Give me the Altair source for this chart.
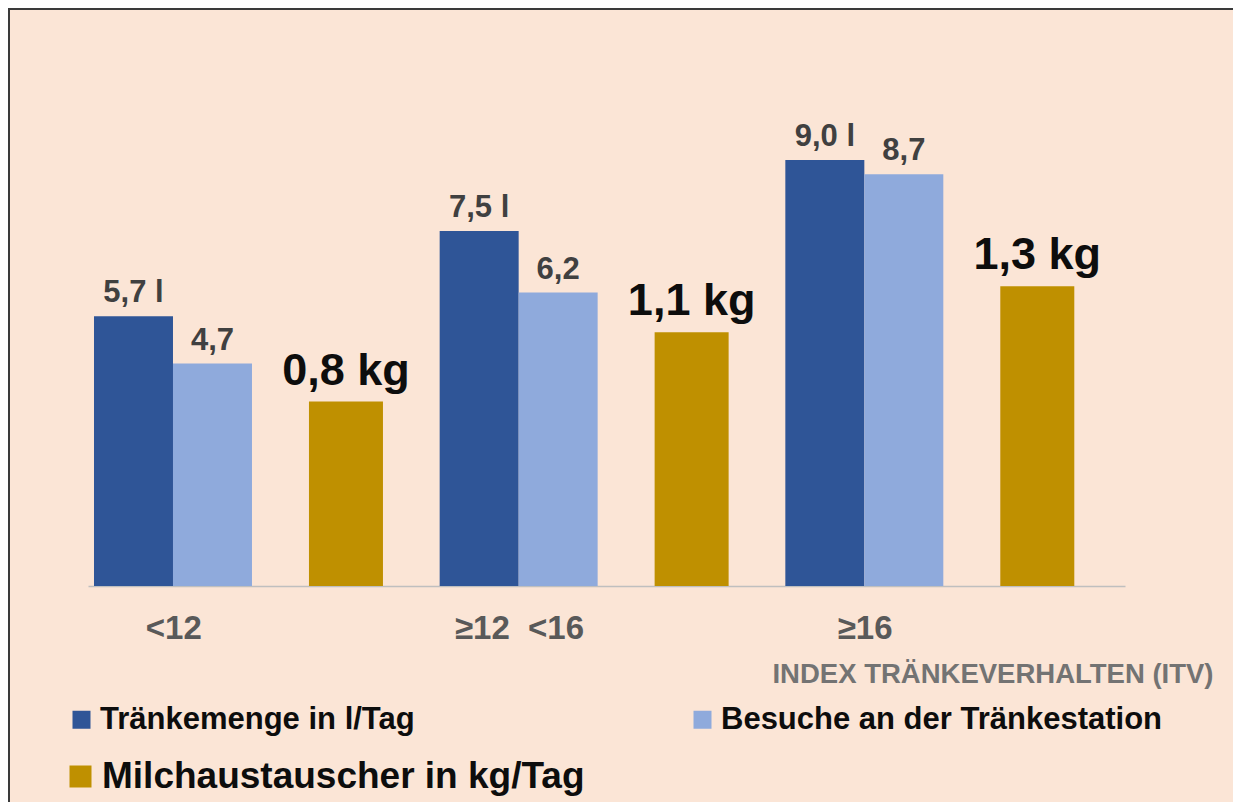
import altair as alt
import pandas as pd

# ---- data ----
groups = ["<12", "≥12\u00a0\u00a0<16", "≥16"]
series_blue = ["Tränkemenge in l/Tag", "Besuche an der Tränkestation"]
series_gold = ["Milchaustauscher in kg/Tag"]
traenkemenge = [5.7, 7.5, 9.0]
besuche = [4.7, 6.2, 8.7]
milchaustauscher = [0.8, 1.1, 1.3]
unit_traenke = " l"
unit_besuche = ""
unit_milch = " kg"
axis_title = "INDEX TRÄNKEVERHALTEN (ITV)"

# ---- styles ----
FONT = "Liberation Sans"
DARK_BLUE = "#2F5597"
LIGHT_BLUE = "#8FAADC"
GOLD = "#BF9000"
BG = "#FBE5D6"

blue_rows = []
for g, v in zip(groups, traenkemenge):
    blue_rows.append({"group": g, "series": series_blue[0], "value": v, "unit": unit_traenke})
for g, v in zip(groups, besuche):
    blue_rows.append({"group": g, "series": series_blue[1], "value": v, "unit": unit_besuche})
blue_df = pd.DataFrame(blue_rows)

gold_df = pd.DataFrame({
    "group": groups,
    "series": series_gold * len(groups),
    "value": milchaustauscher,
    "unit": [unit_milch] * len(groups),
})

x_axis = alt.Axis(
    labelAngle=0, ticks=False, grid=False,
    domainColor="#BFBFBF", domainWidth=1.5,
    labelFont=FONT, labelFontSize=33, labelFontWeight="bold", labelColor="#595959",
    labelPadding=26, labelOffset=-87,
    title=axis_title, titleFont=FONT, titleFontSize=27.5, titleFontWeight="bold",
    titleColor="#737373", titleAlign="right", titleBaseline="alphabetic",
    titleX=1125, titleY=96,
)
x_scale = alt.Scale(domain=groups, paddingInner=0, paddingOuter=0)


def x_enc():
    return alt.X("group:N", sort=groups, scale=x_scale, axis=x_axis)


# slot layout inside each group band (empty slots give the gaps)
blue_slots = series_blue + ["_gap"]
gold_slots = ["_a", "_b"] + series_gold

blue_off = alt.XOffset("series:N", sort=blue_slots,
                       scale=alt.Scale(domain=blue_slots, paddingInner=0,
                                       paddingOuter=0.688, align=0.0552))
gold_off = alt.XOffset("series:N", sort=gold_slots,
                       scale=alt.Scale(domain=gold_slots, paddingInner=0,
                                       paddingOuter=0.8356, align=0.590))

blue_y = alt.Y("value:Q", scale=alt.Scale(domain=[0, 12], nice=False, zero=True), axis=None)
gold_y = alt.Y("value:Q", scale=alt.Scale(domain=[0, 2.463], nice=False, zero=True), axis=None)

label_expr = "replace(format(datum.value, '.1f'), '.', ',') + datum.unit"

blue_bars = alt.Chart(blue_df).mark_bar().encode(
    x=x_enc(), xOffset=blue_off, y=blue_y,
    color=alt.Color("series:N", sort=series_blue,
                    scale=alt.Scale(domain=series_blue, range=[DARK_BLUE, LIGHT_BLUE]),
                    legend=alt.Legend(
                        title=None, orient="none", legendX=-22, legendY=686,
                        direction="horizontal", columns=2, columnPadding=272,
                        symbolType="square", symbolSize=324, symbolStrokeWidth=0,
                        symbolOpacity=1, labelFont=FONT, labelFontSize=31,
                        labelFontWeight="bold", labelColor="#0d0d0d",
                        labelLimit=900, labelOffset=3, padding=0)),
)
blue_text = alt.Chart(blue_df).transform_calculate(label=label_expr).mark_text(
    dy=-14, baseline="alphabetic", font=FONT, fontSize=31, fontWeight="bold", color="#404040"
).encode(x=x_enc(), xOffset=blue_off, y=blue_y, text="label:N")

gold_bars = alt.Chart(gold_df).mark_bar().encode(
    x=x_enc(), xOffset=gold_off, y=gold_y,
    color=alt.Color("series:N",
                    scale=alt.Scale(domain=series_gold, range=[GOLD]),
                    legend=alt.Legend(
                        title=None, orient="none", legendX=-26, legendY=740,
                        symbolType="square", symbolSize=484, symbolStrokeWidth=0,
                        symbolOpacity=1, labelFont=FONT, labelFontSize=37,
                        labelFontWeight="bold", labelColor="#0d0d0d",
                        labelLimit=900, labelOffset=3, padding=0)),
)
gold_text = alt.Chart(gold_df).transform_calculate(label=label_expr).mark_text(
    dy=-17, baseline="alphabetic", font=FONT, fontSize=45, fontWeight="bold", color="#0d0d0d"
).encode(x=x_enc(), xOffset=gold_off, y=gold_y, text="label:N")

# outer frame: only the top and left edges are visible in the reference
# (kept strictly inside the chart bounds so nothing overflows)
frame_df = pd.DataFrame({"f": [0]})
frame_left = alt.Chart(frame_df).mark_rule(stroke="#3a3a3a", strokeWidth=2).encode(
    x=alt.value(-79), y=alt.value(-10), y2=alt.value(784))
frame_top = alt.Chart(frame_df).mark_rule(stroke="#3a3a3a", strokeWidth=2).encode(
    x=alt.value(-80), x2=alt.value(1145), y=alt.value(-9))

blue = alt.layer(blue_bars, blue_text)
gold = alt.layer(gold_bars, gold_text)

chart = alt.layer(blue, gold, frame_left, frame_top).resolve_scale(
    y="independent", xOffset="independent", color="independent"
).resolve_legend(color="independent").properties(
    width=1037, height=568,
    autosize=alt.AutoSizeParams(type="none"),
    padding={"left": 80, "top": 10, "right": 108, "bottom": 216},
    background=BG,
).configure_view(strokeWidth=0)

chart.save("out.html", embed_options={"renderer": "svg", "actions": False})
